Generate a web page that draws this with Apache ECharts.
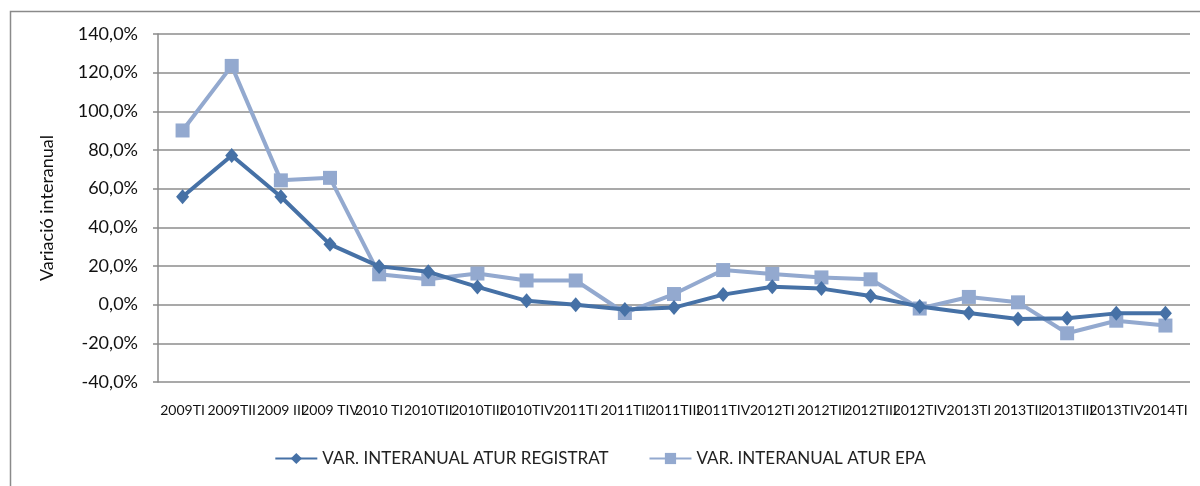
<!DOCTYPE html>
<html><head><meta charset="utf-8">
<script src="https://cdn.jsdelivr.net/npm/echarts@6/dist/echarts.min.js"></script>
<style>html,body{margin:0;padding:0;background:#fff}#c{width:1200px;height:486px}</style>
</head><body><div id="c"></div>
<script>
const categories = ["2009TI","2009TII","2009 III","2009 TIV","2010 TI","2010TII","2010TIII","2010TIV","2011TI","2011TII","2011TIII","2011TIV","2012TI","2012TII","2012TIII","2012TIV","2013TI","2013TII","2013TIII","2013TIV","2014TI"];
const registrat = [55.8,77.2,55.8,31.2,19.8,17.0,9.2,2.0,0.0,-2.5,-1.5,5.2,9.3,8.3,4.5,-1.0,-4.3,-7.4,-7.0,-4.5,-4.5];
const epa = [90.1,123.5,64.3,65.6,15.7,13.2,16.1,12.5,12.5,-4.3,5.5,17.9,15.9,14.1,13.1,-2.0,4.0,1.2,-14.8,-8.3,-10.8];
const seriesNames = ["VAR. INTERANUAL ATUR REGISTRAT","VAR. INTERANUAL ATUR EPA"];
const yTitle = "Variació interanual";

const FONT = "Lato";
const chart = echarts.init(document.getElementById('c'), null, {renderer:'canvas'});
chart.setOption({
  animation:false,
  backgroundColor:'#fff',
  textStyle:{fontFamily:FONT},
  graphic:[{type:'rect',left:8,top:9,shape:{width:1300,height:600},style:{fill:'none',stroke:'#8a8a8a',lineWidth:1.5},z:-1}],
  grid:{left:158,right:10,top:34,bottom:104,containLabel:false},
  legend:{
    bottom:14,left:'center',itemGap:40,itemWidth:42,itemHeight:14,
    textStyle:{fontFamily:FONT,fontSize:17,color:'#222'},
    data:seriesNames
  },
  xAxis:{
    type:'category',data:categories,boundaryGap:true,
    axisLine:{show:false},axisTick:{show:false},
    axisLabel:{interval:0,fontFamily:FONT,fontSize:14,color:'#111',margin:21}
  },
  yAxis:{
    type:'value',min:-40,max:140,interval:20,
    name:yTitle,nameLocation:'middle',nameGap:102,nameRotate:90,
    nameTextStyle:{fontFamily:FONT,fontSize:18,color:'#111'},
    axisLine:{show:true,lineStyle:{color:'#8a8a8a',width:1.5}},
    axisTick:{show:true,length:5,lineStyle:{color:'#8a8a8a',width:1.5}},
    axisLabel:{fontFamily:FONT,fontSize:18,color:'#111',margin:20,formatter:v=>v.toFixed(1).replace('.',',')+'%'},
    splitLine:{lineStyle:{color:'#8c8c8c',width:1.5}}
  },
  series:[
    {name:seriesNames[0],type:'line',data:registrat,symbol:'diamond',symbolSize:[13,15],
     lineStyle:{color:'#4671a6',width:4},itemStyle:{color:'#4671a6'},z:3},
    {name:seriesNames[1],type:'line',data:epa,symbol:'rect',symbolSize:14,
     lineStyle:{color:'#93a9cf',width:4},itemStyle:{color:'#93a9cf'},z:2}
  ]
});
</script></body></html>
